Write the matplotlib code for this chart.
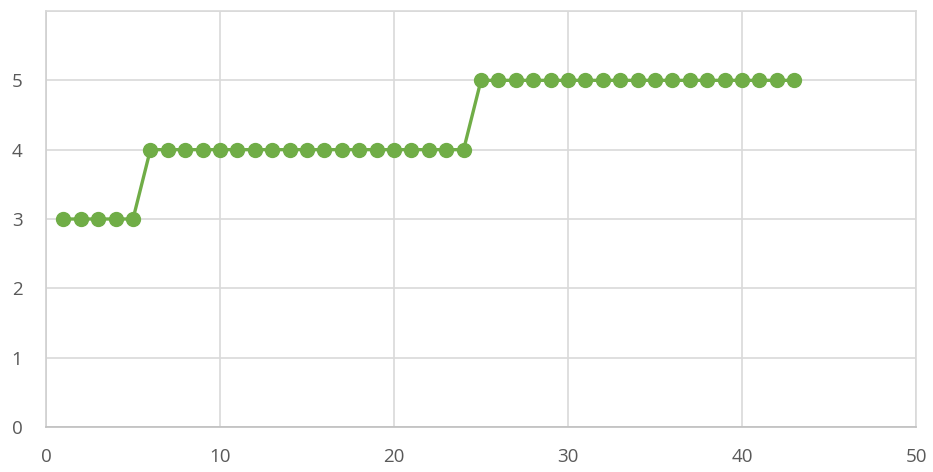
import matplotlib
matplotlib.use("Agg")
import matplotlib.pyplot as plt

# Series data
x_values = list(range(1, 44))
y_values = [3] * 5 + [4] * 19 + [5] * 19

x_ticks = [0, 10, 20, 30, 40, 50]
y_ticks = [0, 1, 2, 3, 4, 5]

line_color = "#70AD47"
grid_color = "#D9D9D9"
text_color = "#595959"

fig = plt.figure(figsize=(9.33, 4.72), dpi=100)
ax = fig.add_axes([0.0493, 0.0953, 0.9325, 0.8814])

ax.plot(x_values, y_values, color=line_color, linewidth=2.4,
        marker="o", markersize=10, markerfacecolor=line_color,
        markeredgecolor=line_color, zorder=3)

ax.set_xlim(0, 50)
ax.set_ylim(0, 6)
ax.set_xticks(x_ticks)
ax.set_yticks(y_ticks)
ax.set_yticks([6], minor=True)

ax.grid(True, which="both", color=grid_color, linewidth=1.2)
ax.set_axisbelow(True)

for side, spine in ax.spines.items():
    spine.set_color(grid_color)
    spine.set_linewidth(1.2)
ax.spines["bottom"].set_color("#BFBFBF")
ax.spines["left"].set_color("#D0D0D0")

ax.tick_params(axis="both", which="both", length=0, labelsize=13.5,
               labelcolor=text_color)
ax.tick_params(axis="x", pad=15)
ax.tick_params(axis="y", pad=17)
for lbl in ax.get_xticklabels() + ax.get_yticklabels():
    lbl.set_fontfamily("Open Sans")

fig.savefig("out.png", dpi=100, facecolor="white")
